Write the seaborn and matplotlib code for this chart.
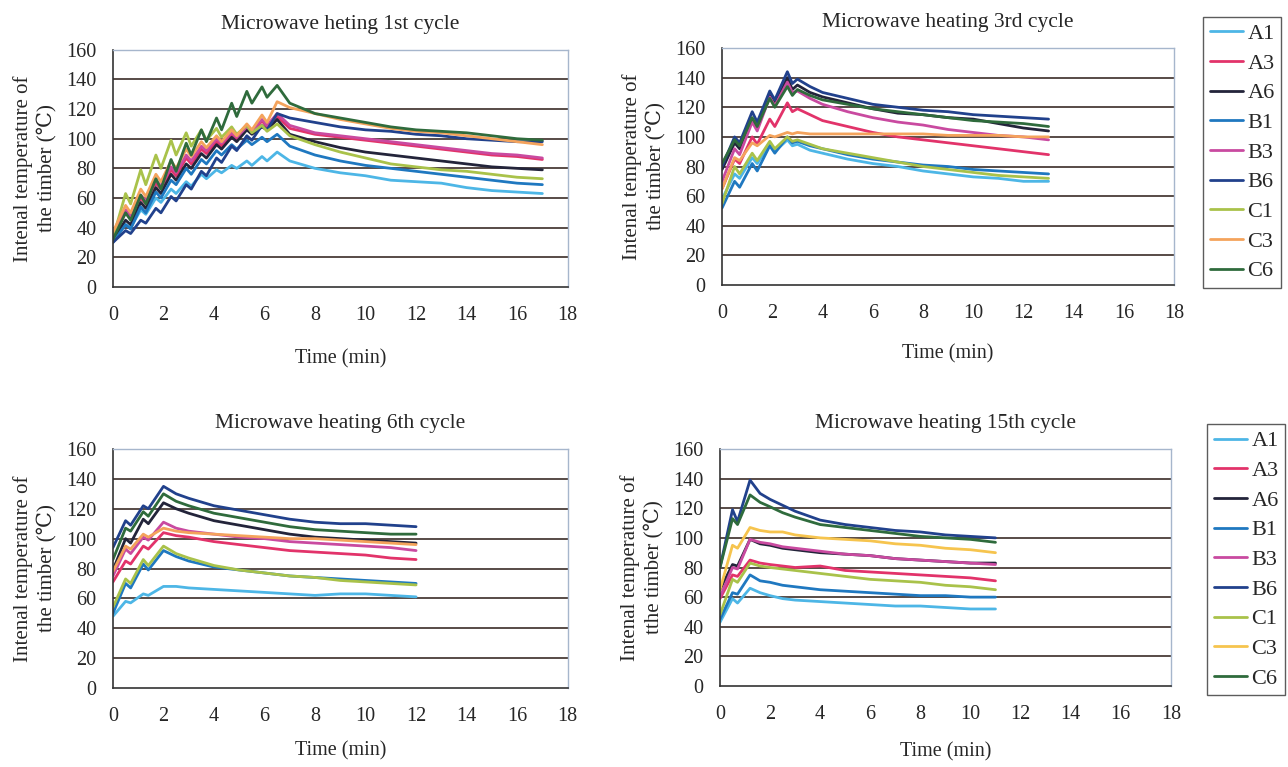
import matplotlib
matplotlib.use("Agg")
import matplotlib.pyplot as plt
import seaborn as sns
import pandas as pd

SERIES = ["A1", "A3", "A6", "B1", "B3", "B6", "C1", "C3", "C6"]

# cycle 1 (peaks / dips during heating, then cooling)
T1 = [0, 0.5, 0.7, 1.1, 1.3, 1.7, 1.9, 2.3, 2.5, 2.9, 3.1, 3.5, 3.7, 4.1, 4.3, 4.7, 4.9,
      5.3, 5.5, 5.9, 6.1, 6.5, 7, 8, 9, 10, 11, 12, 13, 14, 15, 16, 17]
CYCLE1 = {
    "A1": [32, 42, 40, 52, 49, 60, 57, 66, 63, 71, 68, 76, 73, 79, 77, 82, 80, 85, 82, 88, 85, 91,
           85, 80, 77, 75, 72, 71, 70, 67, 65, 64, 63],
    "A3": [34, 50, 46, 60, 56, 70, 66, 79, 75, 87, 83, 93, 90, 98, 95, 103, 100, 107, 104, 112, 108, 115,
           107, 103, 101, 99, 97, 95, 93, 91, 89, 88, 86],
    "A6": [32, 45, 42, 57, 53, 67, 63, 76, 72, 83, 80, 90, 87, 96, 93, 101, 98, 106, 103, 108, 106, 113,
           103, 98, 94, 91, 89, 87, 85, 83, 81, 80, 79],
    "B1": [30, 42, 39, 54, 50, 64, 60, 72, 69, 80, 76, 86, 83, 92, 89, 96, 93, 99, 96, 101, 98, 103,
           95, 89, 85, 82, 80, 78, 76, 74, 72, 70, 69],
    "B3": [34, 52, 48, 62, 58, 72, 68, 81, 77, 89, 85, 95, 92, 100, 97, 104, 101, 108, 105, 113, 109, 117,
           109, 104, 102, 100, 98, 96, 94, 92, 90, 89, 87],
    "B6": [30, 38, 36, 45, 43, 53, 50, 61, 58, 69, 66, 78, 75, 87, 84, 95, 92, 102, 99, 109, 106, 117,
           114, 111, 108, 106, 105, 103, 102, 100, 99, 98, 98],
    "C1": [33, 63, 56, 79, 69, 89, 80, 99, 89, 104, 95, 106, 99, 107, 101, 108, 103, 109, 104, 109, 105, 110,
           102, 96, 91, 87, 83, 81, 79, 78, 76, 74, 73],
    "C3": [37, 55, 50, 66, 61, 76, 71, 85, 80, 93, 88, 98, 94, 102, 98, 106, 102, 110, 106, 116, 111, 125,
           121, 117, 113, 110, 107, 105, 104, 102, 100, 98, 96],
    "C6": [32, 50, 45, 62, 56, 73, 66, 86, 78, 97, 89, 106, 98, 114, 106, 124, 115, 132, 124, 135, 128, 136,
           124, 117, 114, 111, 108, 106, 105, 104, 102, 100, 99],
}

# cycle 3
T3 = [0, 0.5, 0.7, 1.2, 1.4, 1.9, 2.1, 2.6, 2.8, 3.0, 3.5, 4, 5, 6, 7, 8, 9, 10, 11, 12, 13]
CYCLE3 = {
    "A1": [58, 75, 72, 86, 82, 95, 90, 98, 94, 95, 91, 89, 85, 82, 80, 77, 75, 73, 72, 70, 70],
    "A3": [65, 85, 82, 100, 95, 112, 107, 123, 117, 119, 115, 111, 107, 103, 100, 98, 96, 94, 92, 90, 88],
    "A6": [78, 96, 92, 112, 106, 128, 122, 140, 132, 135, 130, 127, 123, 119, 116, 115, 113, 112, 109, 106, 104],
    "B1": [52, 70, 66, 82, 77, 94, 89, 100, 96, 97, 94, 92, 88, 85, 83, 81, 80, 78, 77, 76, 75],
    "B3": [70, 92, 88, 110, 104, 127, 121, 137, 130, 131, 126, 122, 117, 113, 110, 108, 105, 103, 101, 100, 98],
    "B6": [80, 100, 96, 117, 110, 131, 125, 144, 136, 139, 134, 130, 126, 122, 120, 118, 117, 115, 114, 113, 112],
    "C1": [55, 80, 75, 89, 84, 97, 92, 100, 97, 98, 95, 92, 89, 86, 83, 80, 78, 76, 74, 73, 72],
    "C3": [65, 86, 84, 96, 94, 101, 100, 103, 102, 103, 102, 102, 102, 102, 102, 102, 101, 101, 101, 100, 100],
    "C6": [82, 98, 94, 113, 107, 126, 120, 134, 128, 132, 128, 125, 122, 119, 117, 115, 113, 111, 110, 109, 107],
}

# cycle 6
T6 = [0, 0.5, 0.7, 1.2, 1.4, 2.0, 2.5, 3, 4, 5, 6, 7, 8, 9, 10, 11, 12]
CYCLE6 = {
    "A1": [48, 58, 57, 63, 62, 68, 68, 67, 66, 65, 64, 63, 62, 63, 63, 62, 61],
    "A3": [71, 85, 83, 95, 93, 104, 102, 101, 98, 96, 94, 92, 91, 90, 89, 87, 86],
    "A6": [79, 100, 97, 113, 110, 124, 120, 117, 112, 109, 106, 103, 101, 100, 99, 98, 97],
    "B1": [50, 70, 67, 83, 79, 92, 88, 85, 81, 79, 77, 75, 74, 73, 72, 71, 70],
    "B3": [75, 93, 90, 101, 99, 111, 107, 105, 103, 101, 100, 98, 97, 96, 95, 94, 92],
    "B6": [94, 112, 109, 122, 120, 135, 130, 127, 122, 119, 116, 113, 111, 110, 110, 109, 108],
    "C1": [54, 73, 70, 86, 82, 95, 90, 87, 82, 79, 77, 75, 74, 72, 71, 70, 69],
    "C3": [78, 95, 93, 103, 101, 107, 105, 104, 103, 102, 101, 100, 100, 99, 98, 97, 96],
    "C6": [86, 107, 105, 118, 115, 130, 125, 122, 117, 114, 111, 108, 106, 105, 104, 103, 103],
}

# cycle 15
T15 = [0, 0.5, 0.7, 1.2, 1.6, 2, 2.5, 3, 4, 5, 6, 7, 8, 9, 10, 11]
CYCLE15 = {
    "A1": [43, 59, 56, 66, 63, 61, 59, 58, 57, 56, 55, 54, 54, 53, 52, 52],
    "A3": [59, 75, 74, 85, 83, 82, 81, 80, 81, 78, 77, 76, 75, 74, 73, 71],
    "A6": [65, 82, 81, 99, 96, 95, 93, 92, 90, 89, 88, 86, 85, 84, 83, 83],
    "B1": [45, 63, 62, 75, 71, 70, 68, 67, 65, 64, 63, 62, 61, 61, 60, 60],
    "B3": [60, 80, 79, 99, 97, 96, 94, 93, 91, 89, 88, 86, 85, 84, 83, 82],
    "B6": [80, 119, 111, 139, 130, 126, 122, 118, 112, 109, 107, 105, 104, 102, 101, 100],
    "C1": [48, 72, 70, 83, 81, 80, 79, 78, 76, 74, 72, 71, 70, 68, 67, 65],
    "C3": [65, 95, 93, 107, 105, 104, 104, 102, 100, 99, 98, 96, 95, 93, 92, 90],
    "C6": [80, 113, 109, 129, 124, 121, 117, 114, 109, 107, 105, 103, 101, 100, 99, 97],
}

TITLES = ["Microwave heting 1st cycle", "Microwave heating 3rd cycle",
          "Microwave heating 6th cycle", "Microwave heating 15th cycle"]
YLABELS = ["Intenal temperature of\nthe timber (\u2103)", "Intenal temperature of\nthe timber (\u2103)",
           "Intenal temperature of\nthe timber (\u2103)", "Intenal temperature of\ntthe timber (\u2103)"]

COLORS = {"A1": "#4db6e6", "A3": "#e2336a", "A6": "#23243a", "B1": "#1f78c0", "B3": "#c94aa0",
          "B6": "#21418c", "C1": "#a9c24a", "C3": "#f4a35c", "C6": "#2f6b3c"}
COLORS_15 = dict(COLORS, C3="#f6c44e")


def to_long(times, cycle):
    rows = []
    for name in SERIES:
        for t, v in zip(times, cycle[name]):
            rows.append({"time": t, "temp": v, "probe": name})
    return pd.DataFrame(rows)


sns.set_style("white")
plt.rcParams["font.family"] = ["Liberation Serif", "DejaVu Serif", "DejaVu Sans"]
plt.rcParams["font.size"] = 14

fig = plt.figure(figsize=(12.88, 7.67), dpi=100)
boxes = [(0.0877, 0.626, 0.353, 0.309), (0.5606, 0.6284, 0.351, 0.309),
         (0.0877, 0.103, 0.353, 0.3116), (0.559, 0.1056, 0.350, 0.309)]
xpads = [17, 15, 11, 13]
panels = [(T1, CYCLE1, COLORS), (T3, CYCLE3, COLORS), (T6, CYCLE6, COLORS), (T15, CYCLE15, COLORS_15)]

for i, (box, (times, cycle, pal)) in enumerate(zip(boxes, panels)):
    ax = fig.add_axes(box)
    df = to_long(times, cycle)
    sns.lineplot(data=df, x="time", y="temp", hue="probe", hue_order=SERIES, palette=pal,
                 estimator=None, sort=False, linewidth=2.0, ax=ax, legend=(i % 2 == 1))
    ax.set_xlim(0, 18)
    ax.set_ylim(0, 160)
    ax.set_xticks(range(0, 19, 2))
    ax.set_yticks(range(0, 161, 20))
    for y in range(20, 160, 20):
        ax.axhline(y, color="#3b2c28", linewidth=1.2, zorder=0)
    ax.tick_params(axis="x", direction="in", length=6, width=1, pad=14, labelsize=14.5, color="#333333")
    ax.tick_params(axis="y", length=0, pad=12, labelsize=14.5)
    for side in ["left", "bottom"]:
        ax.spines[side].set_color("#333333")
        ax.spines[side].set_linewidth(1.2)
    for side in ["top", "right"]:
        ax.spines[side].set_color("#a6b6cc")
        ax.spines[side].set_linewidth(1.0)
    ax.set_title(TITLES[i], fontsize=15.5, pad=15)
    ax.set_xlabel("Time (min)", fontsize=14.5, labelpad=xpads[i])
    ax.set_ylabel(YLABELS[i], fontsize=15, labelpad=7, linespacing=1.25)
    if i % 2 == 1:
        top = 0.978 if i == 1 else 0.447
        sns.move_legend(ax, loc="upper left", bbox_to_anchor=(0.934 if i == 1 else 0.937, top),
                        bbox_transform=fig.transFigure, title=None, fontsize=16, frameon=True,
                        fancybox=False, handlelength=1.5, labelspacing=0.41, borderpad=0.3,
                        handletextpad=0.2, borderaxespad=0)
        leg = ax.get_legend()
        leg.get_frame().set_edgecolor("#333333")
        leg.get_frame().set_linewidth(1.0)

fig.savefig("out.png", dpi=100)
